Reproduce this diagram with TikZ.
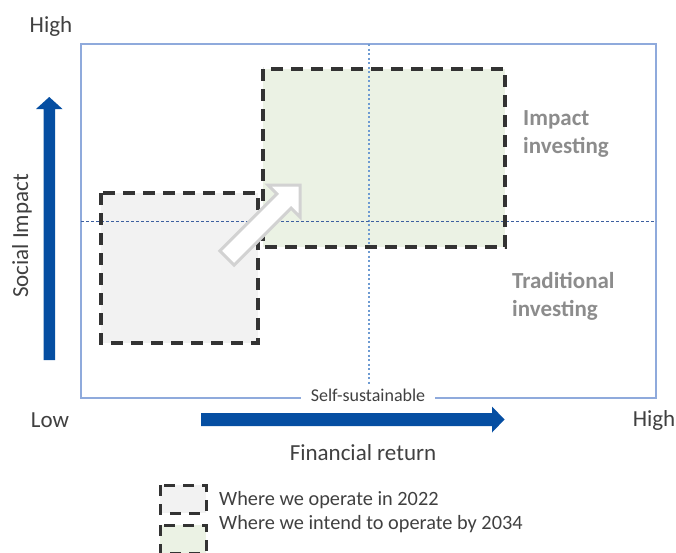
\documentclass[tikz,border=0pt]{standalone}
\usepackage{fontspec}
\setmainfont{Carlito}
\definecolor{axisblue}{RGB}{5,78,162}
\definecolor{framecol}{RGB}{143,170,220}
\definecolor{vdot}{RGB}{110,155,210}
\definecolor{hdash}{RGB}{60,95,160}
\definecolor{boxline}{RGB}{51,51,51}
\definecolor{grayfill}{RGB}{242,242,242}
\definecolor{greenfill}{RGB}{235,242,228}
\definecolor{arrowline}{RGB}{210,210,210}
\definecolor{txtcol}{RGB}{64,64,64}
\definecolor{zonecol}{RGB}{140,140,140}
\tikzset{
  dashbox/.style={draw=boxline, line width=3.2pt, dash pattern=on 12pt off 8pt},
  axislabel/.style={text=txtcol, font=\fontsize{23}{27}\selectfont, inner sep=0pt},
  legendlabel/.style={text=txtcol, font=\fontsize{20.3}{24}\selectfont, inner sep=0pt, anchor=west},
  zonelabel/.style={text=zonecol, font=\fontsize{23}{28}\selectfont\bfseries, inner sep=0pt, anchor=north west, align=left},
  bluearrow/.style={fill=axisblue, draw=none}
}
\begin{document}
\begin{tikzpicture}[x=1pt,y=-1pt]
\useasboundingbox (0,0) rectangle (676,552);
% frame
\draw[framecol, line width=1.3pt] (81,44) rectangle (656,398);
% boxes fills
\fill[grayfill] (101,193) rectangle (258,343);
\fill[greenfill] (263,69) rectangle (505,247);
% dotted lines
\draw[vdot, line width=1.5pt, dash pattern=on 2pt off 2.5pt] (369,44) -- (369,398);
\draw[hdash, line width=0.9pt, dash pattern=on 3pt off 2pt] (81,221.5) -- (656,221.5);
% dashed borders
\draw[dashbox] (101,193) rectangle (258,343);
\draw[dashbox] (263,69) rectangle (505,247);
% white block arrow
\draw[arrowline, line width=3pt, fill=white, line join=miter]
  (300,185) -- (268,185) -- (276.9,193.9) -- (219.9,250.9) -- (234.1,265.1)
  -- (291.1,208.1) -- (300,217) -- cycle;
% self-sustainable label
\node[fill=white, inner xsep=10pt, inner ysep=4pt, text=txtcol, font=\fontsize{18}{22}\selectfont] (selfsus) at (368,395) {Self-sustainable};
% blue axis arrows
\fill[bluearrow] (43.5,360) -- (55,360) -- (55,109) -- (62.5,109) -- (49.25,97) -- (36,109) -- (43.5,109) -- cycle;
\fill[bluearrow] (201,413) -- (492,413) -- (492,406.5) -- (504.5,419.5) -- (492,432.5) -- (492,426) -- (201,426) -- cycle;
% axis labels
\node[axislabel] (hightop) at (51,26) {High};
\node[axislabel] (low) at (50,420) {Low};
\node[axislabel] (highright) at (654,420) {High};
\node[axislabel] (finret) at (363,453) {Financial return};
\node[axislabel, rotate=90] (social) at (22,236) {Social Impact};
% zone labels
\node[zonelabel] (impact) at (523,110) {Impact\\investing};
\node[zonelabel] (trad) at (512,272) {Traditional\\investing};
% legend
\fill[grayfill] (160,485) rectangle (206,513);
\draw[dashbox, line width=3pt, dash pattern=on 11pt off 8pt] (160,485) rectangle (206,513);
\fill[greenfill] (160,525) rectangle (206,553);
\draw[dashbox, line width=3pt, dash pattern=on 11pt off 8pt] (160,525) rectangle (206,553);
\node[legendlabel] (leg1) at (219,500) {Where we operate in 2022};
\node[legendlabel] (leg2) at (219,524) {Where we intend to operate by 2034};
\end{tikzpicture}
\end{document}
